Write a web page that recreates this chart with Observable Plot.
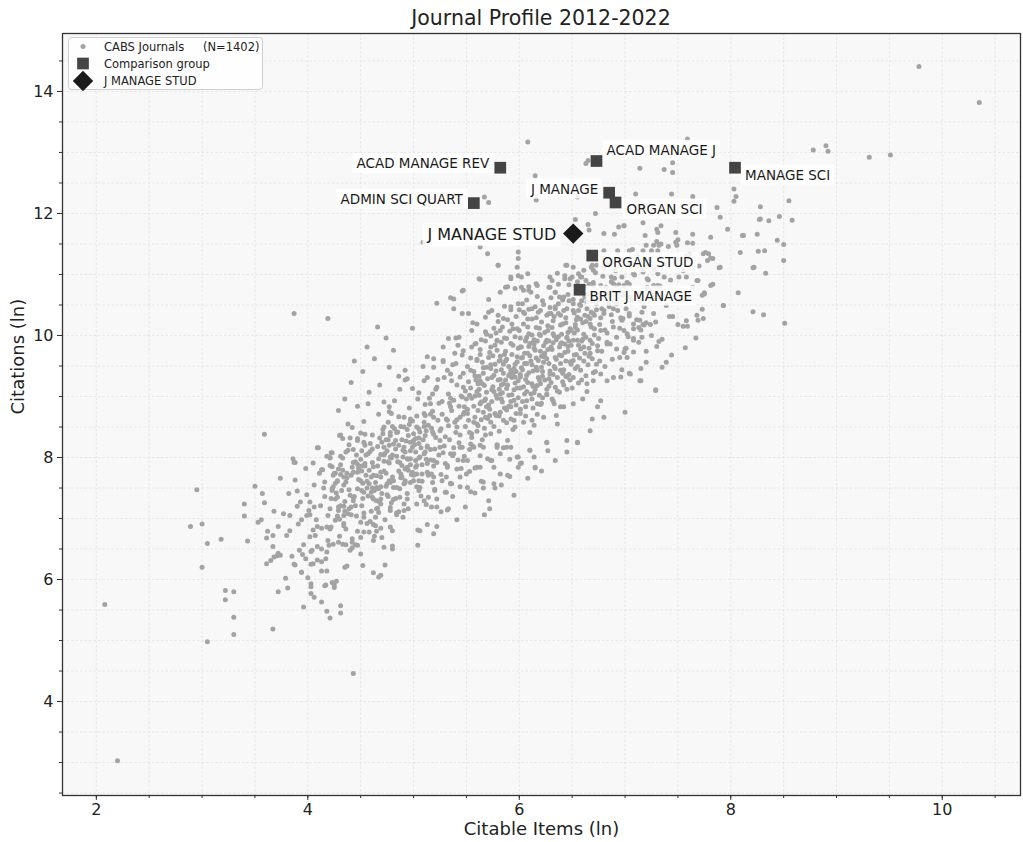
<!DOCTYPE html>
<html><head><meta charset="utf-8">
<script src="https://cdn.jsdelivr.net/npm/d3@7"></script>
<script src="https://cdn.jsdelivr.net/npm/@observablehq/plot@0.6"></script>
<style>
body{margin:0;background:#fff;font-family:"DejaVu Sans",sans-serif;}
#wrap{position:relative;width:1023px;height:842px;overflow:hidden;}
#title{position:absolute;left:62px;width:958px;top:0;line-height:36px;text-align:center;font-size:20.5px;color:#222;}
#chart{position:absolute;left:0;top:32px;}
#legend{position:absolute;left:68px;top:37px;}
</style></head>
<body>
<div id="wrap">
<div id="title">Journal Profile 2012-2022</div>
<div id="chart"></div>
<div id="legend"></div>
</div>
<script>
// ---------- ticks ----------
const xMajorTicks = [2,4,6,8,10];
const xMinorTicks = [2,2.5,3,3.5,4,4.5,5,5.5,6,6.5,7,7.5,8,8.5,9,9.5,10,10.5];
const yMajorTicks = [4,6,8,10,12,14];
const yMinorTicks = [2.5,3,3.5,4,4.5,5,5.5,6,6.5,7,7.5,8,8.5,9,9.5,10,10.5,11,11.5,12,12.5,13,13.5,14,14.5];

// ---------- comparison group ----------
const compNames = ["ACAD MANAGE REV","ACAD MANAGE J","MANAGE SCI","J MANAGE","ORGAN SCI","ADMIN SCI QUART","ORGAN STUD","BRIT J MANAGE"];
const compX = [5.82,6.73,8.04,6.85,6.91,5.57,6.69,6.57];
const compY = [12.75,12.86,12.75,12.34,12.18,12.17,11.31,10.75];
const focalName = "J MANAGE STUD";
const focalX = 6.51;
const focalY = 11.67;

// ---------- CABS journals (ln citable items, ln citations) ----------
const cabsSparse = [[2.08,5.59],[2.2,3.03],[3.05,4.98],[3.3,5.1],[4.43,4.46],[3.87,10.36],[4.19,10.28],
[9.78,14.41],[10.35,13.82],[7.59,13.22],[6.08,13.17],[8.78,13.04],[8.9,13.11],[8.92,13.02],[9.31,12.92],[9.51,12.96],
[8.55,12.21],[8.28,12.11],[8.28,11.91],[8.36,11.88],[8.46,11.95],[8.58,11.89],[8.44,11.56],[8.5,11.49],[8.32,11.39],[8.5,11.23],[8.33,11.02],[8.31,10.34],[8.51,10.2]];

const cabsLowerLeft = [[2.95,7.47],[2.89,6.87],[3.0,6.91],[3.05,6.59],[3.0,6.2],[3.18,6.66],[3.22,5.82],[3.3,5.8],[3.22,5.67],[3.3,5.38],
[3.5,7.53],[3.4,7.24],[3.4,7.04],[3.43,6.63],[3.59,8.38],[3.59,7.26],[3.56,6.98],[3.61,6.68],[3.67,6.72],[3.67,6.54],[3.61,6.26],[3.65,6.31],
[3.68,6.37],[3.71,6.39],[3.74,6.4],[3.72,6.87],[3.72,5.8],[3.81,5.86],[3.79,6.02],[3.67,5.19],[3.88,7.92],[3.9,7.45],[3.83,7.05],[3.83,6.8],
[3.9,7.2],[3.99,7.39],[4.02,7.27],[4.06,7.19],[3.99,7.05],[4.02,7.06],[3.94,6.98],[3.92,6.48],[3.95,6.41],[3.98,6.34],[3.88,6.24],[3.94,6.12],
[4.0,6.03],[4.03,5.93],[4.03,5.88],[4.03,5.77],[4.06,5.71],[3.96,5.55],[4.13,5.63],[4.18,5.48],[4.21,5.37],[4.31,5.57],[4.31,5.45],
[3.87,6.25],[4.03,6.25],[4.16,5.9],[4.23,5.95],[4.25,5.87],[3.87,7.92],[4.09,8.16],[4.1,8.16],[4.23,8.08],[4.21,8.0],[4.23,7.85],[4.14,7.8],[4.26,7.74],[4.3,8.36]];

const cabsLowerCloud = [[4.77,8.83],[4.77,8.75],[4.38,8.55],[4.31,8.37],[4.33,8.31],[4.22,8.08],[4.21,7.99],[4.13,7.8],[4.21,7.87],[4.25,7.74],
[4.31,7.72],[4.33,7.79],[4.36,8.09],[4.43,8.13],[4.4,8.32],[4.47,8.28],[4.5,8.4],[4.53,8.25],[4.54,8.2],[4.59,8.1],[4.7,8.25],[4.71,8.39],
[4.72,8.5],[4.78,8.41],[4.8,8.51],[4.84,8.41],[4.91,8.5],[4.99,8.6],[5.05,8.47],[5.0,8.39],[5.11,8.69],[4.97,8.25],[5.05,8.23],[5.11,8.36],
[4.76,8.29],[4.77,8.2],[4.86,8.2],[4.92,8.09],[4.97,8.11],[4.69,8.05],[4.72,8.04],[4.77,7.91],[4.84,8.02],[4.87,7.92],[4.94,7.98],[5.02,7.95],
[5.03,7.87],[5.1,8.06],[5.13,7.9],[4.61,7.92],[4.54,7.9],[4.51,7.86],[4.47,7.89],[4.42,7.84],[4.43,7.76],[4.47,7.76],[4.51,7.78],[4.34,7.68],
[4.36,7.6],[4.28,7.61],[4.24,7.52],[4.16,7.6],[4.15,7.5],[4.23,7.46],[4.26,7.32],[4.28,7.35],[4.21,7.16],[4.19,7.05],[4.29,7.13],[4.31,7.21],
[4.34,7.2],[4.39,7.16],[4.41,7.19],[4.3,6.99],[4.34,7.05],[4.38,7.08],[4.34,6.92],[4.43,7.35],[4.43,7.29],[4.47,7.49],[4.51,7.46],[4.5,7.62],
[4.56,7.61],[4.58,7.57],[4.56,7.5],[4.53,7.43],[4.61,7.5],[4.61,7.35],[4.62,7.32],[4.65,7.29],[4.69,7.32],[4.69,7.24],[4.65,7.16],[4.67,7.1],
[4.6,7.68],[4.65,7.7],[4.69,7.76],[4.72,7.78],[4.65,7.51],[4.67,7.49],[4.75,7.57],[4.78,7.59],[4.81,7.62],[4.84,7.51],[4.91,7.57],[4.92,7.62],
[4.97,7.59],[5.0,7.62],[4.88,7.73],[4.95,7.79],[4.99,7.76],[5.05,7.62],[5.08,7.73],[5.13,7.76],[4.75,7.39],[4.81,7.31],[4.87,7.35],[4.94,7.32],
[4.78,7.13],[4.84,7.09],[4.91,7.13],[4.95,7.16],[5.03,7.24],[5.1,7.29],[5.14,7.35],[4.9,7.02],[5.04,6.81],[5.06,6.8],[5.13,6.9],[4.53,7.02],
[4.5,6.94],[4.58,6.78],[4.62,6.9],[4.64,6.88],[4.69,6.84],[4.78,6.86],[4.8,6.8],[4.7,6.69],[4.63,6.71],[4.62,6.64],[4.72,6.53],[4.8,6.55],
[4.8,6.5],[4.53,6.78],[4.5,6.69],[4.47,6.56],[4.42,6.67],[4.36,6.57],[4.42,6.61],[4.45,6.57],[4.4,6.48],[4.42,6.52],[4.5,6.42],[4.29,6.61],
[4.33,6.58],[4.24,6.58],[4.2,6.56],[4.18,6.45],[4.17,6.34],[4.09,6.54],[4.13,6.5],[4.13,6.84],[4.18,6.86],[4.22,6.86],[4.05,6.81],[4.09,6.87],
[4.02,6.7],[4.07,6.72],[4.04,6.48],[4.05,6.26],[4.09,6.32],[4.13,6.14],[4.18,6.14],[4.17,5.91],[4.25,5.91],[4.27,5.97],[4.37,6.22],[4.35,6.2],
[4.52,6.23],[4.62,6.11],[4.67,6.04],[4.69,6.07],[4.73,6.24],[5.04,6.56]];

const cabsCoreRead = [[5.8,11.15],[5.98,11.12],[6.45,11.15],[6.51,11.12],[6.69,11.15],[5.63,10.92],[5.92,10.93],[5.99,10.98],[6.08,11.01],
[6.31,10.9],[6.37,10.84],[6.48,10.93],[6.58,10.96],[6.77,10.82],[6.7,10.87],[6.89,10.85],[7.08,11.01],[7.21,10.93],[7.27,10.82],
[5.46,10.73],[5.71,10.59],[5.82,10.71],[5.87,10.79],[5.96,10.77],[6.04,10.74],[6.09,10.8],[6.17,10.82],[6.28,10.79],[6.34,10.71],[6.42,10.63],
[6.47,10.57],[6.51,10.52],[6.59,10.57],[6.64,10.68],[6.73,10.52],[6.83,10.66],[6.96,10.71],[7.05,10.63],[7.14,10.57],[7.24,10.74],
[5.22,10.53],[5.35,10.62],[5.38,10.44],[5.46,10.36],[5.52,10.36],[5.6,10.19],[5.68,10.3],[5.74,10.41],[5.8,10.33],[5.92,10.47],[5.99,10.52],
[6.04,10.38],[6.12,10.44],[6.2,10.41],[6.28,10.36],[6.34,10.47],[6.39,10.33],[6.51,10.41],[6.55,10.3],[6.62,10.33],[6.7,10.36],[6.8,10.41],
[6.89,10.44],[6.97,10.25],[7.08,10.19],[7.18,10.17],[6.89,10.14],[6.77,10.08],
[4.99,10.12],[5.13,9.65],[5.19,9.62],[5.28,9.81],[5.33,9.95],[5.43,9.97],[5.47,9.75],[5.55,10.08],[5.58,9.86],[5.68,10.06],[5.73,9.81],
[5.79,9.92],[5.82,10.08],[5.88,9.95],[5.98,10.11],[6.01,9.81],[6.06,9.92],[6.09,10.03],[6.14,9.86],[6.2,10.0],[6.26,9.92],[6.32,10.03],
[6.39,9.86],[6.45,9.97],[6.55,9.92],[6.61,9.81],[6.67,9.92],[6.74,9.75],[6.83,9.86],[6.92,9.78],[7.0,9.78],[7.08,9.92],[7.16,9.97],
[4.92,9.43],[4.94,9.29],[4.99,9.13],[5.1,9.26],[5.19,9.48],[5.22,9.15],[5.28,9.59],[5.35,9.37],[5.4,9.54],[5.44,9.32],[5.47,9.15],[5.54,9.43],
[5.6,9.59],[5.63,9.26],[5.69,9.48],[5.76,9.35],[5.82,9.59],[5.85,9.21],[5.92,9.43],[5.98,9.65],[6.01,9.32],[6.07,9.54],[6.12,9.21],[6.17,9.43],
[6.23,9.65],[6.29,9.37],[6.34,9.15],[6.39,9.54],[6.45,9.32],[6.51,9.59],[6.58,9.43],[6.64,9.21],[6.7,9.26],[6.77,9.37],[6.83,9.26],[6.96,9.32],
[7.05,9.37],[7.14,9.26],[7.29,9.1],[6.77,8.93],[6.74,8.83],[6.69,8.63],[6.8,8.66],[6.67,8.44],[7.0,8.74],
[4.91,8.66],[4.97,8.61],[5.03,8.5],[5.1,8.72],[5.16,8.88],[5.19,8.66],[5.25,8.44],[5.32,8.61],[5.35,8.83],[5.41,8.5],[5.46,8.99],[5.51,8.72],
[5.55,8.39],[5.6,8.55],[5.63,8.88],[5.68,8.66],[5.73,8.39],[5.77,8.72],[5.82,9.04],[5.85,8.61],[5.92,8.83],[5.96,8.5],[6.01,8.72],[6.07,8.93],
[6.12,8.61],[6.17,8.88],[6.23,8.66],[6.26,9.04],[6.32,8.93],[6.36,8.55],[6.42,8.83],[6.45,8.28],[6.51,8.88],[6.55,8.25],[6.26,8.25],[6.15,7.84],
[6.1,8.12],[5.98,8.01],[5.92,8.17],
[4.91,8.17],[5.0,8.28],[5.06,8.01],[5.13,8.17],[5.19,7.95],[5.25,8.28],[5.32,7.84],[5.38,8.06],[5.44,7.68],[5.51,7.95],[5.57,8.17],[5.63,7.84],
[5.66,8.17],[5.73,7.95],[5.79,8.17],[5.82,7.73],[5.76,7.57],[5.51,7.51],[5.35,7.57],[5.19,7.68],[5.03,7.73],[4.94,7.84],[4.89,7.68],[5.06,7.51]];

const cabsBelowRead = [[6.26,8.24],[6.55,8.24],[6.45,8.09],[6.1,8.12],[6.15,7.83],[6.01,7.9],[5.99,7.84],[5.91,7.69],[5.99,8.01],[5.91,7.97],
[5.77,7.5],[5.66,7.5],[5.66,7.6],[5.72,7.16],[5.54,7.44],[5.19,6.75],[5.32,7.14],[5.33,7.16],[5.17,7.19],[5.22,7.32],[5.25,8.17],[5.35,8.06],
[5.44,8.17],[5.54,8.22],[5.63,8.2],[5.79,8.2],[5.3,7.9],[5.41,7.81],[5.5,7.73],[5.6,7.84],[5.47,7.95],[5.27,7.62],[5.36,7.57],[5.2,7.46],
[5.3,7.43],[5.74,7.95],[5.82,8.06],[5.88,8.17]];

const cabsUpperRead = [[6.15,12.62],[6.65,12.87],[6.63,12.82],[7.14,12.74],[7.37,12.72],[7.45,12.83],[7.45,12.67],[5.67,12.27],[5.71,12.18],
[6.16,12.22],[6.55,12.27],[6.72,12.0],[7.1,12.32],[7.44,12.32],[7.64,12.28],[8.03,12.4],[8.05,12.28],[6.53,11.9],[6.65,11.82],[6.66,11.73],
[6.8,11.67],[6.9,11.66],[6.94,11.78],[6.99,11.8],[6.8,11.39],[6.93,11.39],[6.7,11.07],[6.73,11.15],[6.44,11.15],[6.43,10.98],[6.29,10.96],
[6.16,10.85],[6.02,10.96],[5.99,11.26],[5.99,11.37],[5.8,11.15],[5.7,11.34],[5.63,11.45],[5.62,10.93],[5.47,10.74],[5.38,10.6],[5.09,11.53],
[5.92,10.96],[5.89,10.8],[6.02,10.79],[6.09,10.74],[6.29,10.79],[6.5,10.96],[6.56,11.01],[6.63,10.9],[6.87,10.96],[6.97,10.96],[6.9,10.82],
[8.12,11.64],[8.25,11.66],[8.22,11.12]];

const cabsRightRead = [[7.87,12.1],[8.03,12.2],[7.9,11.94],[7.97,11.74],[8.27,11.9],[6.99,11.8],[7.17,11.85],[7.19,11.64],[7.3,11.74],
[7.31,11.69],[7.34,11.8],[7.48,11.69],[7.5,11.57],[7.59,11.52],[7.64,11.66],[7.64,11.51],[7.81,11.61],[7.2,11.48],[7.25,11.39],[7.3,11.54],
[7.32,11.48],[7.49,11.48],[8.11,11.64],[8.09,11.36],[8.26,11.38],[7.76,11.36],[7.79,11.34],[7.78,11.23],[7.83,11.26],[7.89,11.11],[8.21,11.11],
[7.69,10.9],[7.83,10.84],[7.73,10.66],[7.75,10.7],[8.07,10.7],[7.93,10.49],[8.21,10.39],[7.42,10.31],[7.68,10.33],[7.74,10.28],[7.5,10.18],
[7.55,10.15],[7.59,10.15],[7.69,10.25],[7.27,10.36],[7.04,10.36],[6.98,10.28],[7.14,10.25],[7.17,10.18],[7.2,10.21],[7.13,10.13],[7.08,10.11],
[7.02,10.03],[7.25,10.0],[7.08,9.95],[7.32,9.9],[7.01,9.79],[7.2,9.74],[6.99,9.72],[7.57,9.8],[7.04,9.38],[7.15,9.46],[7.15,9.26],[7.39,9.56],
[7.35,9.48],[7.29,9.11],[7.04,11.39],[7.17,11.39],[7.27,11.48],[7.34,11.5],[7.48,11.53],[7.58,11.31],[7.74,11.34],[7.81,11.27],[7.9,11.12],
[7.17,11.04],[7.31,11.01],[7.37,10.96],[7.51,10.96],[7.58,10.96],[7.68,10.9],[7.81,10.82],[7.75,10.68],[7.31,10.82],[7.21,10.79],[7.04,10.84],
[7.93,10.49]];

// hand-placed density of the main cloud, strip by strip
const cabsStrip375 = [[3.77,7.08],[3.8,6.72],[3.82,7.41],[3.85,6.38],[3.88,7.63],[3.91,6.91],[3.93,7.27],[3.96,6.57],[3.98,7.82],[4.01,7.13],
[4.03,6.46],[4.06,7.55],[4.08,6.98],[4.11,7.74],[4.13,6.29],[4.16,7.36],[4.18,8.02],[4.21,6.83],[4.23,7.49],[4.05,7.91],[3.94,6.12],[4.12,7.21],
[3.86,7.98],[4.19,6.64],[4.24,7.71],[3.53,6.94],[3.57,7.41],[3.62,6.79],[3.68,7.12],[3.72,6.43],[3.74,7.66]];
const cabsStrip425 = [[4.27,7.42],[4.31,7.88],[4.26,6.97],[4.34,7.55],[4.38,8.12],[4.29,7.19],[4.41,7.71],[4.36,6.83],[4.44,7.36],[4.47,8.31],
[4.33,7.99],[4.28,7.62],[4.46,7.04],[4.39,7.47],[4.42,8.49],[4.35,7.28],[4.48,7.83],[4.3,6.71],[4.45,7.93],[4.37,7.67]];
const cabsStrip450 = [[4.52,7.58],[4.55,8.04],[4.51,7.21],[4.58,7.79],[4.61,8.37],[4.56,6.92],[4.63,7.46],[4.66,8.18],[4.53,8.59],[4.69,7.68],
[4.6,7.12],[4.72,7.94],[4.57,7.37],[4.67,8.71],[4.74,7.53],[4.54,7.86],[4.64,7.02],[4.71,8.46],[4.59,8.23],[4.68,7.27],[4.62,7.71],[4.73,8.07],
[4.65,6.79],[4.51,8.11],[4.7,7.41],[4.57,8.88],[4.66,7.86],[4.74,8.29]];
const cabsStrip475 = [[4.76,7.93],[4.78,8.36],[4.81,7.51],[4.83,8.14],[4.79,8.72],[4.86,7.78],[4.88,8.51],[4.91,7.24],[4.84,7.06],[4.93,8.27],
[4.77,7.62],[4.95,7.97],[4.82,8.93],[4.97,8.63],[4.89,7.87],[4.8,8.04],[4.92,7.59],[4.85,8.42],[4.99,8.17],[4.87,9.12],[4.94,7.41],[4.76,8.58],
[4.9,8.01],[4.98,7.72],[4.83,7.33],[4.96,8.81],[4.79,7.99],[4.88,7.67],[4.92,9.27],[4.81,8.22],[4.97,7.88],[4.86,8.67],[4.94,8.46],[4.78,7.18]];
const cabsStrip500 = [[5.01,8.21],[5.03,8.68],[5.02,7.84],[5.06,8.42],[5.05,9.06],[5.08,7.61],[5.09,8.29],[5.11,8.87],[5.12,7.97],[5.14,8.53],
[5.13,9.31],[5.16,8.13],[5.17,7.73],[5.18,8.76],[5.19,8.38],[5.21,9.12],[5.22,7.92],[5.23,8.61],[5.24,8.04],[5.04,8.96],[5.07,7.37],[5.1,8.58],
[5.15,8.97],[5.2,7.48],[5.02,8.31],[5.05,7.99],[5.09,9.49],[5.12,8.44],[5.16,8.71],[5.19,7.86],[5.23,9.28],[5.07,8.16],[5.14,7.71],[5.18,9.04],
[5.21,8.33],[5.24,8.89],[5.11,8.09],[5.03,7.52],[5.17,8.48],[5.22,7.19]];
const cabsStrip525 = [[5.26,8.47],[5.27,8.92],[5.28,8.08],[5.29,9.31],[5.31,8.63],[5.32,7.87],[5.33,9.04],[5.34,8.29],[5.36,8.77],[5.37,9.52],
[5.38,8.16],[5.39,8.58],[5.41,9.19],[5.42,7.96],[5.43,8.84],[5.44,8.37],[5.46,9.68],[5.47,8.71],[5.48,8.02],[5.49,9.09],[5.26,7.72],[5.28,9.57],
[5.3,8.34],[5.33,8.52],[5.35,7.58],[5.36,9.26],[5.38,8.94],[5.4,8.41],[5.42,9.84],[5.44,8.66],[5.45,7.82],[5.47,9.38],[5.49,8.51],[5.27,8.71],
[5.29,8.19],[5.32,9.43],[5.34,8.89],[5.37,8.03],[5.39,9.71],[5.41,8.62],[5.43,8.24],[5.45,9.01],[5.48,8.83],[5.31,7.43],[5.35,8.97],[5.4,9.96],
[5.46,8.17],[5.5,8.96]];
const cabsStrip550 = [[5.51,8.79],[5.52,9.24],[5.53,8.41],[5.54,9.63],[5.55,8.97],[5.56,8.19],[5.57,9.41],[5.58,8.66],[5.59,9.87],[5.6,9.08],
[5.61,8.52],[5.62,9.33],[5.63,8.03],[5.64,8.91],[5.65,9.56],[5.66,8.74],[5.67,9.18],[5.68,8.37],[5.69,10.02],[5.7,9.29],[5.71,8.86],[5.72,9.72],
[5.73,8.58],[5.74,9.11],[5.51,9.49],[5.53,8.13],[5.55,9.81],[5.57,8.84],[5.58,7.83],[5.6,8.43],[5.62,9.02],[5.63,9.69],[5.65,8.29],[5.66,9.38],
[5.68,8.96],[5.7,7.98],[5.72,8.69],[5.73,9.46],[5.52,8.61],[5.54,9.14],[5.56,10.21],[5.59,9.27],[5.61,8.77],[5.64,9.93],[5.67,8.48],[5.69,9.07],
[5.71,10.38],[5.74,8.92],[5.55,8.33],[5.6,9.61],[5.65,9.21],[5.7,8.64],[5.58,9.01],[5.63,8.88],[5.73,9.99]];
const cabsStrip575 = [[5.76,9.08],[5.77,9.53],[5.78,8.69],[5.79,9.91],[5.8,9.27],[5.81,8.43],[5.82,9.66],[5.83,8.96],[5.84,10.14],[5.85,9.38],
[5.86,8.81],[5.87,9.74],[5.88,9.13],[5.89,8.28],[5.9,9.49],[5.91,10.07],[5.92,8.92],[5.93,9.31],[5.94,9.84],[5.95,8.61],[5.96,9.22],[5.97,10.31],
[5.98,9.57],[5.99,8.98],[5.76,8.51],[5.78,9.42],[5.8,10.23],[5.82,8.74],[5.83,9.19],[5.85,8.16],[5.86,9.96],[5.88,9.61],[5.9,8.84],[5.92,10.42],
[5.93,9.03],[5.95,9.46],[5.97,8.72],[5.99,9.79],[5.77,9.84],[5.79,8.97],[5.81,9.58],[5.84,9.06],[5.86,10.48],[5.88,8.57],[5.91,9.37],[5.94,8.46],
[5.96,9.98],[5.98,9.14],[5.75,9.67],[5.79,8.21],[5.83,9.89],[5.87,9.27],[5.89,10.26],[5.93,9.69],[5.97,9.41],[5.81,9.12],[5.85,9.53],[5.9,9.02],
[5.94,10.11],[5.78,10.04],[5.92,8.63],[5.96,9.32]];
const cabsStrip600 = [[6.01,9.36],[6.02,9.81],[6.03,8.92],[6.04,10.19],[6.05,9.54],[6.06,8.68],[6.07,9.97],[6.08,9.23],[6.09,10.43],[6.1,9.67],
[6.11,9.04],[6.12,10.01],[6.13,9.42],[6.14,8.53],[6.15,9.76],[6.16,10.29],[6.17,9.18],[6.18,9.59],[6.19,10.12],[6.2,8.87],[6.21,9.48],[6.22,10.57],
[6.23,9.83],[6.24,9.27],[6.01,8.79],[6.03,9.64],[6.05,10.36],[6.07,9.08],[6.08,9.71],[6.1,8.41],[6.12,10.27],[6.13,9.89],[6.15,9.12],[6.17,10.64],
[6.18,9.31],[6.2,9.74],[6.22,8.98],[6.24,10.05],[6.02,9.47],[6.04,9.16],[6.06,9.91],[6.09,9.39],[6.11,10.71],[6.13,8.81],[6.16,9.63],[6.19,9.02],
[6.21,10.22],[6.23,9.56],[6.0,10.08],[6.04,8.58],[6.08,10.14],[6.12,9.52],[6.14,9.93],[6.18,10.38],[6.22,9.41],[6.06,9.28],[6.1,9.87],[6.15,10.47],
[6.2,9.21],[6.03,10.52],[6.17,8.71],[6.24,9.66]];
const cabsStrip625 = [[6.26,9.62],[6.27,10.08],[6.28,9.17],[6.29,10.46],[6.3,9.81],[6.31,8.96],[6.32,10.24],[6.33,9.49],[6.34,10.71],[6.35,9.93],
[6.36,9.31],[6.37,10.36],[6.38,9.68],[6.39,8.83],[6.4,10.02],[6.41,10.58],[6.42,9.44],[6.43,9.86],[6.44,10.29],[6.45,9.12],[6.46,9.74],[6.47,10.83],
[6.48,10.11],[6.49,9.53],[6.26,9.03],[6.28,9.91],[6.3,10.62],[6.32,9.36],[6.33,9.99],[6.35,8.69],[6.37,10.52],[6.39,10.17],[6.41,9.38],[6.43,10.93],
[6.44,9.58],[6.46,10.05],[6.48,9.27],[6.27,9.77],[6.29,9.42],[6.31,10.13],[6.34,9.64],[6.36,11.02],[6.38,9.07],[6.4,9.88],[6.42,10.41],[6.45,9.96],
[6.47,9.36],[6.26,10.33],[6.3,9.23],[6.34,10.44],[6.38,9.81],[6.42,9.19],[6.46,10.67],[6.49,9.84],[6.33,8.88]];
const cabsStrip650 = [[6.51,9.92],[6.52,10.37],[6.53,9.46],[6.54,10.74],[6.55,10.09],[6.56,9.22],[6.57,10.51],[6.58,9.78],[6.59,10.96],[6.6,10.21],
[6.61,9.58],[6.62,10.63],[6.63,9.97],[6.64,9.08],[6.65,10.31],[6.66,10.84],[6.67,9.71],[6.68,10.14],[6.69,10.57],[6.7,9.39],[6.71,10.01],[6.72,11.03],
[6.73,10.42],[6.74,9.83],[6.51,9.31],[6.53,10.18],[6.55,10.88],[6.57,9.63],[6.58,10.27],[6.6,8.96],[6.62,10.79],[6.64,10.44],[6.66,9.66],[6.68,11.12],
[6.69,9.87],[6.71,10.33],[6.73,9.53],[6.52,10.04],[6.54,9.69],[6.56,10.41],[6.59,9.91],[6.61,11.07],[6.63,9.34],[6.67,10.19],[6.7,10.68]];
const cabsStrip675 = [[6.76,10.18],[6.77,10.62],[6.78,9.74],[6.79,10.97],[6.8,10.36],[6.81,9.49],[6.82,10.79],[6.83,10.04],[6.84,11.17],[6.85,10.47],
[6.86,9.86],[6.87,10.88],[6.88,10.23],[6.89,9.31],[6.9,10.56],[6.91,11.06],[6.92,9.97],[6.93,10.41],[6.94,10.83],[6.95,9.64],[6.96,10.29],[6.97,11.24],
[6.98,10.66],[6.99,10.08],[6.76,9.58],[6.78,10.44],[6.8,11.12],[6.83,9.89],[6.85,10.71],[6.88,9.61],[6.9,10.94],[6.92,10.52],[6.95,10.12],[6.97,9.44],
[6.99,10.82]];
const cabsStrip700 = [[7.01,10.44],[7.02,10.87],[7.03,9.98],[7.05,11.19],[7.06,10.58],[7.08,9.73],[7.09,10.99],[7.11,10.26],[7.12,11.31],[7.14,10.69],
[7.15,10.09],[7.17,11.08],[7.18,10.47],[7.2,9.56],[7.21,10.77],[7.23,11.24],[7.24,10.18],[7.02,9.64],[7.04,10.32],[7.07,11.41],[7.1,10.61],[7.13,9.89],
[7.16,10.38],[7.19,11.14],[7.22,10.91],[7.26,10.66],[7.28,11.08],[7.29,10.22],[7.31,11.39],[7.33,10.81],[7.35,9.94],[7.37,11.17],[7.39,10.49],
[7.41,11.46],[7.43,10.91],[7.45,10.31],[7.47,11.21],[7.49,10.72],[7.3,9.82],[7.44,9.68],[7.52,10.58],[7.55,11.06],[7.58,10.24],[7.61,11.33],
[7.64,10.79],[7.67,9.96],[7.7,11.14],[7.73,10.43]];
const cabsBelowRidge = [[5.05,7.46],[5.12,7.23],[5.18,7.59],[5.26,7.11],[5.31,7.68],[5.37,7.36],[5.44,7.52],[5.49,7.19],[5.53,7.77],[5.58,7.42],
[5.64,7.61],[5.71,7.29],[5.76,7.84],[5.83,7.55],[5.89,7.71],[5.95,7.38],[6.02,7.91],[6.08,7.66],[6.14,8.01],[6.21,7.78],[6.27,8.11],[6.34,7.95],
[5.41,6.98],[5.22,6.87],[5.67,7.06]];
const cabsAboveRidge = [[4.35,8.96],[4.41,9.23],[4.47,8.84],[4.52,9.41],[4.58,9.07],[4.63,9.62],[4.68,9.19],[4.72,8.91],[4.77,9.48],[4.81,9.76],
[4.86,9.33],[4.44,9.58],[4.56,9.81],[4.66,10.14],[4.74,9.96],[4.29,8.77]];
const cabsCoreDense = [[5.62,9.12],[5.66,9.47],[5.69,8.83],[5.71,9.64],[5.74,9.31],[5.78,9.02],[5.79,9.76],[5.83,9.44],[5.84,8.91],[5.87,9.58],
[5.89,9.19],[5.92,9.87],[5.95,9.11],[5.96,9.53],[5.99,9.26],[6.01,9.96],[6.03,9.44],[6.05,9.71],[6.07,9.35],[6.08,10.27],
[6.11,9.58],[6.13,9.17],[6.14,9.79],[6.16,9.48],[6.19,10.02],[6.21,9.66],[6.22,9.33],[6.25,9.89],[6.27,10.16],[6.28,9.54],
[6.31,9.77],[6.33,10.31],[6.35,9.61],[6.37,9.98],[6.39,9.43],[6.41,10.19],[6.43,9.72],[6.45,10.44],[6.47,9.91],[6.49,10.08],
[6.52,9.68],[6.54,10.26],[6.56,9.84],[6.58,10.49],[6.61,10.02],[6.63,10.23],[6.66,9.79],[6.68,10.38],[6.71,10.11],[6.74,10.57],
[6.77,10.29],[6.81,10.09],[6.84,10.53],[6.87,10.34],[5.64,8.62],[5.72,8.79],[5.81,8.68],[5.9,9.34],[5.97,8.86],[6.05,9.04],
[6.12,8.96],[6.19,9.27],[6.26,9.12],[6.34,9.46],[6.41,9.24],[6.48,9.57],[6.55,9.49],[6.62,9.71],[6.69,9.62],[6.75,9.95],
[5.68,9.91],[5.76,10.12],[5.85,10.28],[5.93,10.19],[6.0,10.42],[6.07,10.58],[6.16,10.13],[6.23,10.51],[6.3,10.36],[6.38,10.63],
[6.44,10.21],[6.51,10.59],[6.57,10.72],[6.64,10.55],[6.7,10.82],[5.58,9.34],[5.63,9.77],[5.73,9.52],[5.86,9.69],[5.94,9.38],
[6.02,9.63],[6.09,9.82],[6.17,9.91],[6.24,9.71],[6.32,9.88],[6.4,9.67],[6.46,9.82],[6.53,10.13],[6.6,9.94],[6.67,10.28],
[5.48,8.74],[5.53,9.02],[5.57,8.58],[5.61,9.21],[5.67,8.93],[5.75,9.16],[5.82,9.28],[5.88,8.78],[5.95,8.94],[6.01,9.14],
[6.06,8.83],[6.14,9.06],[6.21,8.89],[6.28,9.29],[6.36,9.09],[6.44,9.33],[6.5,9.14],[6.59,9.27],[6.65,9.52],[6.72,9.41]];
const cabsLowerDense = [[4.22,7.33],[4.26,7.58],[4.29,7.81],[4.32,7.46],[4.35,7.12],[4.37,7.74],[4.4,7.38],[4.43,7.92],[4.45,7.21],[4.48,7.64],
[4.5,7.97],[4.52,7.33],[4.55,7.71],[4.57,8.06],[4.6,7.43],[4.62,7.85],[4.64,7.59],[4.67,7.98],[4.69,7.52],[4.72,8.17],
[4.74,7.74],[4.76,7.36],[4.78,8.01],[4.8,7.68],[4.83,8.28],[4.85,7.93],[4.87,7.49],[4.9,8.12],[4.92,7.81],[4.95,8.36],
[4.97,7.98],[5.0,7.71],[5.02,8.09],[5.05,8.32],[5.08,7.88],[5.1,8.51],[5.13,8.19],[5.16,7.96],[5.18,8.42],[5.2,8.14],
[4.28,7.04],[4.34,6.88],[4.41,7.06],[4.47,6.79],[4.53,7.09],[4.59,6.95],[4.66,7.17],[4.73,6.98],[4.79,7.26],[4.86,7.11],
[4.31,8.02],[4.39,8.21],[4.46,8.04],[4.54,8.38],[4.61,8.14],[4.68,8.32],[4.75,8.11],[4.82,8.47],[4.89,8.29],[4.96,8.54]];

const cabsGroups = [cabsSparse,cabsLowerLeft,cabsLowerCloud,cabsCoreRead,cabsBelowRead,cabsUpperRead,cabsRightRead,
  cabsStrip375,cabsStrip425,cabsStrip450,cabsStrip475,cabsStrip500,cabsStrip525,cabsStrip550,cabsStrip575,cabsStrip600,
  cabsStrip625,cabsStrip650,cabsStrip675,cabsStrip700,cabsBelowRidge,cabsAboveRidge,cabsCoreDense,cabsLowerDense];
const cabs = cabsGroups.flat().map(([x,y]) => ({x, y}));

const comparison = compNames.map((name,i) => ({name, x: compX[i], y: compY[i]}));
const focal = [{name: focalName, x: focalX, y: focalY}];

// label placement (style): anchor side and pixel offsets
const labelPlacement = {
  "ACAD MANAGE REV": ["end", -11, -4],
  "ACAD MANAGE J": ["start", 10, -10.5],
  "MANAGE SCI": ["start", 10, 7.5],
  "J MANAGE": ["end", -11, -3.5],
  "ORGAN SCI": ["start", 11, 7],
  "ADMIN SCI QUART": ["end", -11, -3.7],
  "ORGAN STUD": ["start", 10, 7.3],
  "BRIT J MANAGE": ["start", 10, 6.5]
};

const labelMarks = comparison.map(d => {
  const [anchor, dx, dy] = labelPlacement[d.name];
  return Plot.text([d], {x:"x", y:"y", text:"name", textAnchor:anchor, dx, dy, fontSize:13.5, fill:"#1a1a1a", className:"cmp-label"});
});
labelMarks.push(Plot.text(focal, {x:"x", y:"y", text:"name", textAnchor:"end", dx:-17, dy:1, fontSize:16, fill:"#1a1a1a", className:"cmp-label"}));

const gridStyle = {stroke:"#e2e2e2", strokeOpacity:1, strokeWidth:0.8, strokeDasharray:"2.5,2"};

const chart = Plot.plot({
  width: 1023, height: 810,
  marginLeft: 62, marginRight: 3, marginTop: 1, marginBottom: 47,
  x: {domain: [1.68, 10.74]},
  y: {domain: [2.46, 14.95]},
  style: {fontFamily: "DejaVu Sans", fontSize: "16px", color: "#222", background: "transparent", overflow: "visible"},
  marks: [
    Plot.frame({fill: "#f8f8f8"}),
    Plot.gridX(xMinorTicks, gridStyle),
    Plot.gridY(yMinorTicks, gridStyle),
    Plot.axisX(xMinorTicks, {tickSize: 3, tickFormat: () => "", label: null, stroke: "#333"}),
    Plot.axisX(xMajorTicks, {tickSize: 5, tickPadding: 3, tickFormat: d => String(d), label: null, fontSize: 16, stroke: "#333"}),
    Plot.axisY(yMinorTicks, {tickSize: 3, tickFormat: () => "", label: null, stroke: "#333"}),
    Plot.axisY(yMajorTicks, {tickSize: 5, tickPadding: 4, tickFormat: d => String(d), label: null, fontSize: 16, stroke: "#333"}),
    Plot.text(["Citable Items (ln)"], {frameAnchor: "bottom", text: d => d, dy: 39, fontSize: 18, fill: "#222"}),
    Plot.text(["Citations (ln)"], {frameAnchor: "left", text: d => d, dx: -44, rotate: -90, fontSize: 18, fill: "#222"}),
    Plot.dot(cabs, {x: "x", y: "y", r: 2.5, fill: "#a3a3a3"}),
    ...labelMarks,
    Plot.dot(comparison, {x: "x", y: "y", symbol: "square", r: 6.6, fill: "#444"}),
    Plot.dot(focal, {x: "x", y: "y", symbol: "diamond2", r: 9.2, fill: "#1a1a1a"}),
    Plot.frame({stroke: "#333", strokeWidth: 1.3})
  ]
});
document.getElementById("chart").append(chart);

// white boxes behind the labels, sized from the rendered text
const NS = "http://www.w3.org/2000/svg";
chart.querySelectorAll("g.cmp-label text").forEach(t => {
  const b = t.getBBox();
  const r = document.createElementNS(NS, "rect");
  r.setAttribute("x", b.x - 4);
  r.setAttribute("y", b.y - 2);
  r.setAttribute("width", b.width + 8);
  r.setAttribute("height", b.height + 4);
  r.setAttribute("fill", "#fff");
  r.setAttribute("fill-opacity", 0.85);
  if (t.getAttribute("transform")) r.setAttribute("transform", t.getAttribute("transform"));
  t.parentNode.insertBefore(r, t);
});

// legend
const legend = d3.select("#legend").append("svg").attr("width", 196).attr("height", 54);
legend.append("rect").attr("x", 0.5).attr("y", 0.5).attr("width", 194).attr("height", 52).attr("rx", 3)
  .attr("fill", "#fff").attr("fill-opacity", 0.85).attr("stroke", "#cfcfcf");
legend.append("circle").attr("cx", 15).attr("cy", 9.5).attr("r", 2.5).attr("fill", "#a3a3a3");
legend.append("path").attr("d", d3.symbol(d3.symbolSquare, 6.6 * 6.6 * Math.PI)()).attr("transform", "translate(15,26.5)").attr("fill", "#444");
legend.append("path").attr("d", d3.symbol(d3.symbolDiamond2, 9.2 * 9.2 * Math.PI)()).attr("transform", "translate(15,44)").attr("fill", "#1a1a1a");
const lt = legend.append("g").attr("font-family", "DejaVu Sans").attr("font-size", 11.5).attr("fill", "#222");
lt.append("text").attr("x", 36).attr("y", 13.5).text("CABS Journals");
lt.append("text").attr("x", 135).attr("y", 13.5).text("(N=1402)");
lt.append("text").attr("x", 36).attr("y", 30.5).text("Comparison group");
lt.append("text").attr("x", 36).attr("y", 48).text("J MANAGE STUD");
</script>
</body></html>
